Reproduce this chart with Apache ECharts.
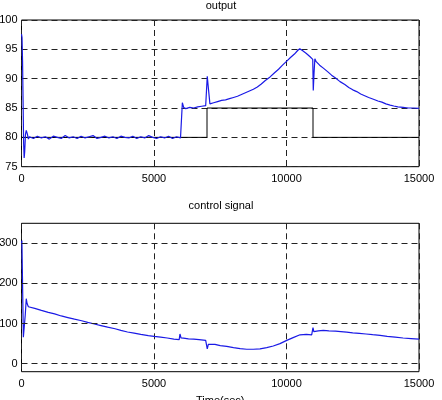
<!DOCTYPE html>
<html>
<head>
<meta charset="utf-8">
<script src="https://cdn.jsdelivr.net/npm/echarts@6/dist/echarts.min.js"></script>
<style>
  html, body { margin: 0; padding: 0; background: #fff; }
  #chart { width: 442px; height: 400px; }
</style>
</head>
<body>
<div id="chart"></div>
<script>
// 时间轴刻度
const timeTicks = [0, 5000, 10000, 15000]
const outputTicks = [75, 80, 85, 90, 95, 100]
const controlTicks = [0, 100, 200, 300]

// 输出 (t, value)
const outputPts = [
  [0, 97.6], [20, 97], [40, 93], [60, 86], [80, 79], [100, 76.5], [120, 77.5], [150, 80.5],
  [180, 81.2], [220, 80.6], [260, 79.7], [300, 80.1],
  [450, 79.8], [600, 80.2], [750, 79.9], [900, 80.1], [1050, 79.7], [1200, 80.2], [1350, 80],
  [1500, 79.8], [1650, 80.3], [1800, 79.9], [1950, 80.1], [2100, 79.8], [2250, 80.2], [2400, 79.9],
  [2550, 80.1], [2700, 80.3], [2850, 79.8], [3000, 80], [3150, 80.2], [3300, 79.9], [3450, 80.1],
  [3600, 79.8], [3750, 80.2], [3900, 80], [4050, 79.9], [4200, 80.2], [4350, 79.8], [4500, 80.1],
  [4650, 79.9], [4800, 80.3], [4950, 80], [5100, 79.8], [5250, 80.1], [5400, 79.9], [5550, 80.2],
  [5700, 79.8], [5850, 80.1], [6000, 79.9],
  [6040, 80], [6070, 85.9], [6120, 85.1], [6200, 84.9], [6350, 85.1], [6500, 85], [6650, 85.2],
  [6800, 85.3], [6950, 85.4], [6990, 85.4], [7010, 90.4], [7060, 88], [7110, 85.7], [7250, 85.9],
  [7400, 86.1], [7550, 86.3], [7700, 86.4], [7850, 86.6], [8000, 86.8], [8150, 87.0], [8300, 87.3],
  [8450, 87.6], [8600, 87.9], [8750, 88.2], [8900, 88.6], [9050, 89.1], [9200, 89.7], [9380, 90.3],
  [9550, 91.0], [9700, 91.6], [9850, 92.3], [10010, 93.0], [10150, 93.6], [10300, 94.2],
  [10420, 94.8], [10500, 95.1],
  [10600, 94.8], [10750, 94.3], [10900, 93.7], [10990, 93.3], [11010, 88], [11040, 91],
  [11070, 93.4], [11120, 92.9], [11250, 92.3], [11390, 91.8], [11550, 91.2], [11700, 90.6],
  [11850, 90.1], [12020, 89.5], [12200, 89], [12350, 88.5], [12500, 88.1], [12650, 87.8],
  [12800, 87.4], [12950, 87.1], [13100, 86.8], [13280, 86.5], [13450, 86.2], [13600, 86],
  [13750, 85.7], [13910, 85.5], [14050, 85.35], [14200, 85.2], [14400, 85.1], [14600, 85],
  [14800, 85], [15000, 84.95]
]

// 设定值
const referencePts = [
  [0, 80], [7000, 80], [7000, 85], [11000, 85], [11000, 80], [15000, 80]
]

// 控制信号
const controlPts = [
  [0, 300], [15, 307], [40, 200], [70, 66], [100, 70], [140, 120], [180, 162], [210, 150], [260, 142],
  [500, 138], [750, 133], [1010, 128], [1250, 124], [1500, 119], [1750, 115], [2000, 111],
  [2270, 107], [2500, 103], [2750, 99], [3000, 95], [3250, 91], [3530, 87], [3750, 83], [4000, 79],
  [4250, 76], [4500, 73], [4785, 70], [5000, 68], [5250, 66], [5500, 64], [5750, 61], [5950, 60],
  [5980, 74], [6020, 64], [6110, 63.5], [6300, 62], [6500, 61], [6700, 60], [6950, 58], [6990, 57],
  [7010, 37], [7050, 48], [7100, 51], [7300, 48], [7500, 45], [7745, 43], [8000, 40], [8250, 37.5],
  [8500, 36], [8750, 36], [9000, 37], [9255, 40], [9500, 44], [9755, 50], [10010, 58], [10250, 65],
  [10510, 72], [10750, 73], [10950, 72], [11000, 90], [11030, 80], [11080, 78], [11200, 82],
  [11390, 83], [11600, 82], [11850, 81], [12050, 80], [12270, 78.6], [12500, 77], [12750, 75.5],
  [13000, 74], [13250, 72.2], [13530, 70.4], [13800, 68], [14100, 66], [14400, 64], [14700, 62.5],
  [15000, 61]
]

const chart = echarts.init(document.getElementById('chart'), null, { renderer: 'canvas' })

const font = 'Liberation Sans, Arial, sans-serif'
const dashed = { color: '#222', width: 1, type: [6, 4] }

const xAxisBase = (gridIndex, name) => ({
  type: 'value',
  gridIndex,
  min: timeTicks[0],
  max: timeTicks[timeTicks.length - 1],
  interval: 5000,
  name: name || '',
  nameLocation: 'middle',
  nameGap: 24,
  nameTextStyle: { color: '#000', fontSize: 11, fontFamily: font },
  axisLine: { show: false },
  axisTick: { show: false },
  axisLabel: { color: '#000', fontSize: 11, fontFamily: font, margin: 7, formatter: v => String(v) },
  splitLine: { show: true, lineStyle: dashed }
})

const option = {
  animation: false,
  title: [
    { text: 'output', left: 'center', top: 0, padding: 0,
      textStyle: { fontSize: 11, fontWeight: 'normal', color: '#000', fontFamily: font } },
    { text: 'control signal', left: 'center', top: 200, padding: 0,
      textStyle: { fontSize: 11, fontWeight: 'normal', color: '#000', fontFamily: font } }
  ],
  grid: [
    { left: 21.5, top: 20, width: 397.5, height: 146.7, show: true, borderColor: '#000', borderWidth: 1,
      backgroundColor: 'transparent', outerBoundsMode: 'none', containLabel: false },
    { left: 21.5, top: 223.3, width: 397.5, height: 148.4, show: true, borderColor: '#000', borderWidth: 1,
      backgroundColor: 'transparent', outerBoundsMode: 'none', containLabel: false }
  ],
  xAxis: [
    xAxisBase(0),
    xAxisBase(1, 'Time(sec)')
  ],
  yAxis: [
    {
      type: 'value',
      gridIndex: 0,
      min: outputTicks[0],
      max: outputTicks[outputTicks.length - 1],
      interval: 5,
      axisLine: { show: false },
      axisTick: { show: false },
      axisLabel: { color: '#000', fontSize: 11, fontFamily: font, margin: 4 },
      splitLine: { show: true, lineStyle: dashed }
    },
    {
      type: 'value',
      gridIndex: 1,
      min: -20,
      max: 350,
      axisLine: { show: false },
      axisTick: { show: false },
      axisLabel: { color: '#000', fontSize: 11, fontFamily: font, margin: 4, customValues: controlTicks },
      splitLine: { show: false }
    }
  ],
  series: [
    {
      name: 'reference',
      type: 'line',
      xAxisIndex: 0,
      yAxisIndex: 0,
      data: referencePts,
      showSymbol: false,
      lineStyle: { color: '#000', width: 1 },
      z: 2
    },
    {
      name: 'output',
      type: 'line',
      xAxisIndex: 0,
      yAxisIndex: 0,
      data: outputPts,
      showSymbol: false,
      lineStyle: { color: '#1a1ae6', width: 1.2 },
      z: 3
    },
    {
      name: 'control',
      type: 'line',
      xAxisIndex: 1,
      yAxisIndex: 1,
      data: controlPts,
      showSymbol: false,
      lineStyle: { color: '#1a1ae6', width: 1.2 },
      z: 3,
      markLine: {
        silent: true,
        symbol: 'none',
        label: { show: false },
        lineStyle: dashed,
        data: controlTicks.map(v => ({ yAxis: v }))
      }
    }
  ]
}

chart.setOption(option)
</script>
</body>
</html>
